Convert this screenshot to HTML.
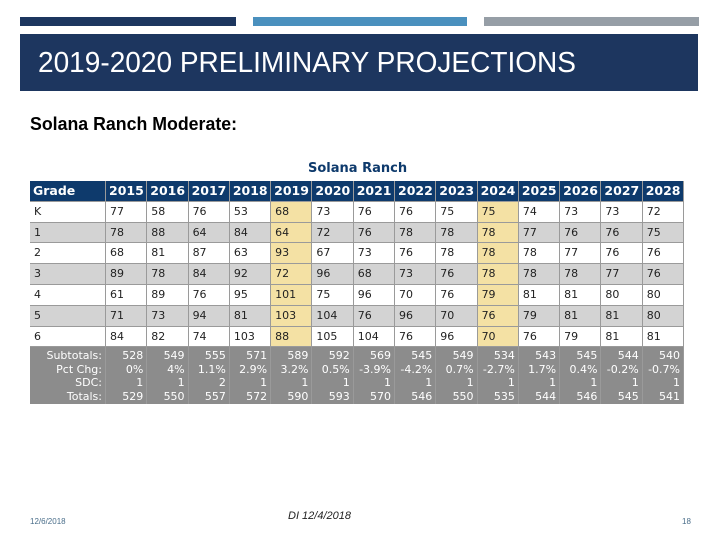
<!DOCTYPE html>
<html><head><meta charset="utf-8"><style>
body{margin:0;width:720px;height:540px;background:#fff;position:relative;overflow:hidden;font-family:"Liberation Sans",Arial,sans-serif}
.abs{position:absolute}
.fit{transform-origin:0 0;white-space:nowrap}
.c{position:absolute;box-sizing:border-box;font-family:"DejaVu Sans","Liberation Sans",sans-serif;font-size:11px;line-height:20px;padding-left:4px;color:#222;border-right:1px solid #9a9a9a;border-bottom:1px solid #9a9a9a}
.h{background:#0e3a6c;color:#fff;font-weight:bold;font-size:12.5px;line-height:20px;padding-left:3px}
.s{background:#8c8c8c;color:#fff;text-align:right;padding:0 3px 0 0;font-size:11px;line-height:13.5px;border-bottom:none}
</style></head><body>
<div class="abs" style="left:20px;top:17px;width:216px;height:9px;background:#1d365f"></div>
<div class="abs" style="left:253px;top:17px;width:214px;height:9px;background:#4a90be"></div>
<div class="abs" style="left:484px;top:17px;width:215px;height:9px;background:#969ea6"></div>
<div class="abs" style="left:20px;top:34px;width:678px;height:57px;background:#1d365f"></div>
<div class="abs fit" id="ttl" data-fit="538" style="left:38px;top:47px;color:#fff;font-family:'Liberation Sans',Arial,sans-serif;font-size:29px;line-height:32px">2019-2020 PRELIMINARY PROJECTIONS</div>
<div class="abs fit" id="sub" data-fit="207" style="left:30px;top:114px;font-family:'Liberation Sans',Arial,sans-serif;font-size:18px;line-height:20px;font-weight:bold;color:#000">Solana Ranch Moderate:</div>
<div class="abs" style="left:308px;top:161px;font-family:'DejaVu Sans',sans-serif;font-weight:bold;font-size:13px;color:#0e3a6c">Solana Ranch</div>
<div id="tbl"></div>
<div class="abs" style="left:30px;top:517px;font-size:8px;color:#4a6e8a">12/6/2018</div>
<div class="abs" style="left:288px;top:510px;font-size:11px;font-style:italic;color:#222">DI 12/4/2018</div>
<div class="abs" style="left:682px;top:517px;font-size:8px;color:#4a6e8a">18</div>
<script>
const years=[2015,2016,2017,2018,2019,2020,2021,2022,2023,2024,2025,2026,2027,2028];
const grades=["K","1","2","3","4","5","6"];
const gradeK=[77,58,76,53,68,73,76,76,75,75,74,73,73,72];
const grade1=[78,88,64,84,64,72,76,78,78,78,77,76,76,75];
const grade2=[68,81,87,63,93,67,73,76,78,78,78,77,76,76];
const grade3=[89,78,84,92,72,96,68,73,76,78,78,78,77,76];
const grade4=[61,89,76,95,101,75,96,70,76,79,81,81,80,80];
const grade5=[71,73,94,81,103,104,76,96,70,76,79,81,81,80];
const grade6=[84,82,74,103,88,105,104,76,96,70,76,79,81,81];
const subtotals=[528,549,555,571,589,592,569,545,549,534,543,545,544,540];
const pctChg=["0%","4%","1.1%","2.9%","3.2%","0.5%","-3.9%","-4.2%","0.7%","-2.7%","1.7%","0.4%","-0.2%","-0.7%"];
const sdc=[1,1,2,1,1,1,1,1,1,1,1,1,1,1];
const totals=[529,550,557,572,590,593,570,546,550,535,544,546,545,541];
const highlightYears=[2019,2024];
const rows=[gradeK,grade1,grade2,grade3,grade4,grade5,grade6];
const T=document.getElementById('tbl');
const X0=30,GW=76,CW=(684-106)/years.length,Y0=181,RH=20.8;
function cell(x,y,w,h,txt,cls,bg){const d=document.createElement('div');d.className='c '+cls;d.style.left=x+'px';d.style.top=y+'px';d.style.width=w+'px';d.style.height=h+'px';if(bg)d.style.background=bg;d.innerHTML=txt;T.appendChild(d);return d;}
let d=cell(X0,Y0,GW,RH,'Grade','h');


years.forEach((y,i)=>{const e=cell(106+i*CW,Y0,CW,RH,y,'h');

});
rows.forEach((r,ri)=>{const y=Y0+RH*(ri+1);const bg=ri%2?'#d3d3d3':'#fff';
const g=cell(X0,y,GW,RH,grades[ri],'',bg);


r.forEach((v,i)=>{const hb=highlightYears.includes(years[i])?'#f4e1a4':bg;const e=cell(106+i*CW,y,CW,RH,v,'',hb);

});});
const sy=Y0+RH*8,sh=404-sy;
const lab=cell(X0,sy,GW,sh,'Subtotals:<br>Pct Chg:<br>SDC:<br>Totals:','s');
lab.style.paddingTop='2px';


years.forEach((y,i)=>{const e=cell(106+i*CW,sy,CW,sh,subtotals[i]+'<br>'+pctChg[i]+'<br>'+sdc[i]+'<br>'+totals[i],'s');e.style.paddingTop='2px';

});
document.querySelectorAll('.fit').forEach(el=>{const w=el.getBoundingClientRect().width;const t=+el.getAttribute('data-fit');if(w>0)el.style.transform='scaleX('+(t/w)+')';});
</script>
</body></html>
